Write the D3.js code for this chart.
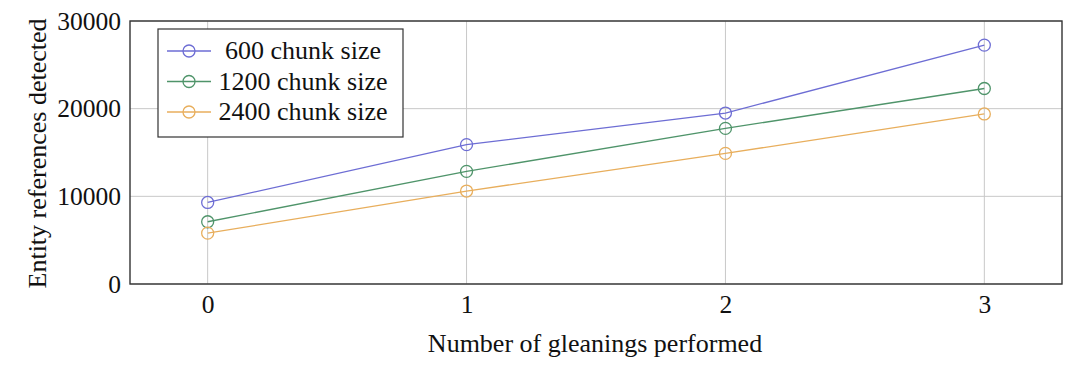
<!DOCTYPE html>
<html><head><meta charset="utf-8">
<script src="https://cdn.jsdelivr.net/npm/d3@7"></script>
<style>body{margin:0;background:#fff}svg{display:block}svg text{font-family:"Liberation Serif","Times New Roman",serif !important;fill:#111}</style>
</head><body><svg id="c" width="1080" height="373"></svg>
<script>
const categories = [0, 1, 2, 3];
const seriesNames = ["600 chunk size", "1200 chunk size", "2400 chunk size"];
const s600 = [9300, 15900, 19500, 27250];
const s1200 = [7100, 12850, 17750, 22300];
const s2400 = [5800, 10600, 14900, 19400];
const yTicks = [0, 10000, 20000, 30000];
const xLabel = "Number of gleanings performed";
const yLabel = "Entity references detected";
const colors = ["#6d6dd4", "#4f946a", "#e8ae5c"];
const seriesValues = [s600, s1200, s2400];
const FONT = "Liberation Serif";

const svg = d3.select("#c");
const L = 130, R = 1062, T = 21, B = 284;
const x = d3.scaleLinear().domain([-0.3, 3.3]).range([L, R]);
const y = d3.scaleLinear().domain([0, 30000]).range([B, T]);

// grid
svg.append("g").selectAll("line").data(categories).join("line")
  .attr("x1", d => x(d)).attr("x2", d => x(d)).attr("y1", T).attr("y2", B)
  .attr("stroke", "#c8c8c8").attr("stroke-width", 1);
svg.append("g").selectAll("line").data(yTicks).join("line")
  .attr("x1", L).attr("x2", R).attr("y1", d => y(d)).attr("y2", d => y(d))
  .attr("stroke", "#c8c8c8").attr("stroke-width", 1);

// axes
const xa = svg.append("g").attr("transform", `translate(0,${B})`)
  .call(d3.axisBottom(x).tickValues(categories).tickFormat(d3.format("d")).tickSize(0).tickPadding(11));
const ya = svg.append("g").attr("transform", `translate(${L},0)`)
  .call(d3.axisLeft(y).tickValues(yTicks).tickFormat(d3.format("d")).tickSize(0).tickPadding(9));
[xa, ya].forEach(a => {
  a.attr("font-family", FONT);
  a.select(".domain").remove();
  a.selectAll("text").style("font-size", "25.5px").attr("fill", "#111");
});

// frame
svg.append("rect").attr("x", L).attr("y", T).attr("width", R - L).attr("height", B - T)
  .attr("fill", "none").attr("stroke", "#333").attr("stroke-width", 1.4);

// series
const line = d3.line().x((d, i) => x(categories[i])).y(d => y(d));
seriesValues.forEach((vals, k) => {
  svg.append("path").datum(vals).attr("d", line).attr("fill", "none")
    .attr("stroke", colors[k]).attr("stroke-width", 1.3);
  svg.append("g").selectAll("circle").data(vals).join("circle")
    .attr("cx", (d, i) => x(categories[i])).attr("cy", d => y(d)).attr("r", 6)
    .attr("fill", "none").attr("stroke", colors[k]).attr("stroke-width", 1.3);
});

// labels
svg.append("text").attr("x", (L + R) / 2 - 1).attr("y", 352).attr("text-anchor", "middle")
  .attr("font-family", FONT).style("font-size", "26px").text(xLabel);
svg.append("text").attr("transform", `translate(46,${(T + B) / 2 + 1}) rotate(-90)`).attr("text-anchor", "middle")
  .attr("font-family", FONT).style("font-size", "26px").text(yLabel);

// legend
const lg = svg.append("g");
lg.append("rect").attr("x", 158).attr("y", 29).attr("width", 245).attr("height", 108)
  .attr("fill", "#fff").attr("stroke", "#333").attr("stroke-width", 1.2);
seriesNames.forEach((n, k) => {
  const cy = 51 + k * 30.5;
  lg.append("line").attr("x1", 167).attr("x2", 211).attr("y1", cy).attr("y2", cy)
    .attr("stroke", colors[k]).attr("stroke-width", 1.3);
  lg.append("circle").attr("cx", 189).attr("cy", cy).attr("r", 6).attr("fill", "none")
    .attr("stroke", colors[k]).attr("stroke-width", 1.3);
  lg.append("text").attr("x", 303).attr("y", cy + 8).attr("text-anchor", "middle")
    .attr("font-family", FONT).style("font-size", "26px").text(n);
});
</script></body></html>
